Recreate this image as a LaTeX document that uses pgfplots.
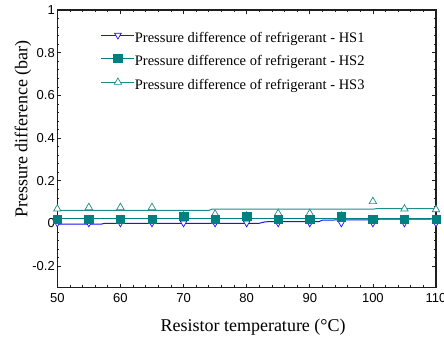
\documentclass[border=0pt]{standalone}
\usepackage{pgfplots}
\pgfplotsset{compat=1.18}
\usepackage{fontspec}
\setmainfont{Liberation Serif}
\newfontfamily\arialf{Liberation Sans}
\definecolor{hsblue}{RGB}{20,20,245}
\definecolor{hsteal}{RGB}{0,128,128}
\definecolor{hsteal3}{RGB}{30,140,135}
\definecolor{axgray}{RGB}{30,30,30}
\begin{document}
\begin{tikzpicture}
\begin{axis}[name=ax, scale only axis, width=378.7pt, height=277.5pt,
  xmin=50, xmax=110, ymin=-0.3, ymax=1,
  xtick={50,60,70,80,90,100,110}, ytick={-0.2,0,0.2,0.4,0.6,0.8,1},
  minor x tick num=4, minor y tick num=4,
  tick align=inside, major tick length=4pt, minor tick length=2.2pt,
  every tick/.style={axgray, line width=0.6pt},
  axis line style={axgray, line width=1.3pt},
  ticklabel style={font=\arialf\fontsize{13}{13}\selectfont},
  /pgf/number format/assume math mode=true,
  xticklabel style={yshift=-2pt},
  yticklabel style={xshift=1pt},
  xlabel={Resistor temperature (°C)},
  ylabel={Pressure difference (bar)},
  label style={font=\fontsize{18}{18}\selectfont},
  xlabel style={at={(rel axis cs:0.517,0)}, anchor=base, yshift=-44.2pt},
  ylabel style={at={(rel axis cs:0,0.571)}, anchor=center, yshift=34.3pt},
  legend style={draw=none, fill=none, at={(rel axis cs:0.1067,0.9274)}, anchor=north west,
    font=\fontsize{14.5}{14.5}\selectfont, row sep=9.15pt,
    nodes={inner sep=0pt, text height=10pt, text depth=3pt}},
  legend cell align=left,
  legend image code/.code={\draw[mark repeat=2,mark phase=2,#1] plot coordinates {(0pt,3.6pt) (16.5pt,3.6pt) (33pt,3.6pt)};},
]
\addlegendimage{hsblue, line width=1pt, mark=triangle*, mark size=3.8pt, mark options={rotate=180, fill=white, draw=hsblue, line width=0.7pt}}
\addlegendentry{Pressure difference of refrigerant - HS1}
\addlegendimage{hsteal, line width=1pt, mark=square*, mark size=4.2pt, mark options={fill=hsteal, draw=hsteal}}
\addlegendentry{Pressure difference of refrigerant - HS2}
\addlegendimage{hsteal3, line width=1pt, mark=triangle*, mark size=4.3pt, mark options={fill=white, draw=hsteal3, line width=0.7pt}}
\addlegendentry{Pressure difference of refrigerant - HS3}

% HS1
\addplot[hsblue, line width=1pt, forget plot] coordinates {
(50,-0.003) (57,-0.003) (57.5,0.001) (82,0.001) (83,0.008) (91.5,0.009) (92,0.016) (100,0.017) (101,0.020) (110,0.021)};
\addplot[only marks, forget plot, mark=triangle*, mark size=3.8pt, mark options={rotate=180, fill=white, draw=hsblue, line width=0.7pt}] coordinates {
(50,0.002) (55,0.002) (60,0.002) (65,0.002) (70,0.002) (75,0.002) (80,0.002) (85,0.002) (90,0.002) (95,0.002) (100,0.002) (105,0.002) (110,0.002)};
% HS3
\addplot[hsteal3, line width=1pt, forget plot] coordinates {
(50,0.061) (74,0.061) (74.5,0.067) (100,0.067) (100.5,0.069) (110,0.069)};
\addplot[only marks, forget plot, mark=triangle*, mark size=4.3pt, mark options={fill=white, draw=hsteal3, line width=0.7pt}] coordinates {
(50,0.068) (55,0.075) (60,0.075) (65,0.075) (70,0.035) (75,0.044) (80,0.035) (85,0.047) (90,0.047) (95,0.035) (100,0.103) (105,0.068) (110,0.065)};
% HS2
\addplot[hsteal, line width=1pt, forget plot] coordinates {
(50,0.024) (110,0.024)};
\addplot[only marks, forget plot, mark=square*, mark size=4.2pt, mark options={fill=hsteal, draw=hsteal}] coordinates {
(50,0.021) (55,0.021) (60,0.021) (65,0.021) (70,0.033) (75,0.021) (80,0.033) (85,0.021) (90,0.021) (95,0.031) (100,0.021) (105,0.021) (110,0.021)};
\end{axis}
\pgfresetboundingbox
\path ([shift={(-57.3pt,-52.5pt)}]ax.south west) rectangle ([shift={(8pt,10pt)}]ax.north east);
\end{tikzpicture}
\end{document}
